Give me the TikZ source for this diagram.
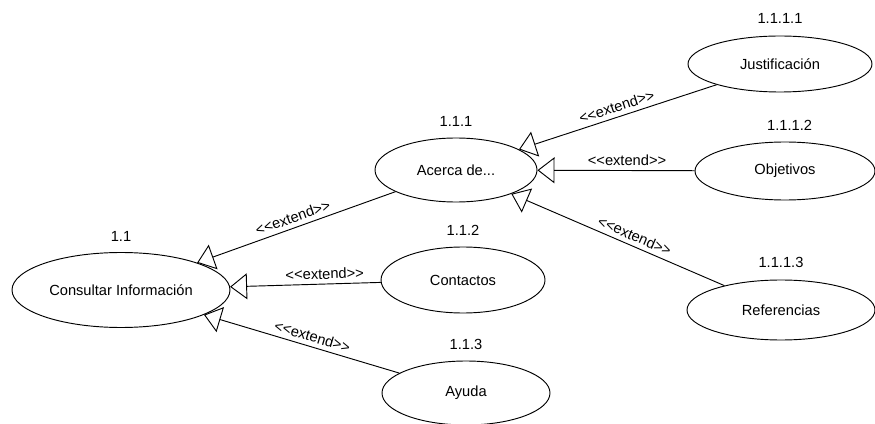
\documentclass[tikz,border=0pt]{standalone}
\usepackage{fontspec}
\setmainfont{Liberation Sans}
\usetikzlibrary{shapes.geometric, arrows.meta, positioning}
\newcommand{\extlabel}{<\kern0pt<extend>\kern0pt>}
\tikzset{
  usecase/.style={ellipse, draw=black, line width=0.7pt, inner sep=0pt, font=\fontsize{11}{13}\selectfont},
  numlabel/.style={inner sep=0pt, font=\fontsize{11}{13}\selectfont},
  extendline/.style={-{Triangle[open, length=12.75pt, width=19.5pt]}, line width=0.7pt},
  stereo/.style={sloped, above, font=\fontsize{11}{13}\selectfont},
}

\begin{document}
\begin{tikzpicture}[x=0.75pt, y=-0.75pt]
\useasboundingbox (0,0) rectangle (875,424);
\node[usecase, minimum width=163.5pt, minimum height=56.25pt] (consultar) at (121,290) {Consultar Información};
\node[usecase, minimum width=121.5pt, minimum height=48pt] (acerca) at (456,170) {Acerca de...};
\node[usecase, minimum width=123pt, minimum height=49.5pt] (contactos) at (463,280) {Contactos};
\node[usecase, minimum width=126pt, minimum height=48pt] (ayuda) at (466,393) {Ayuda};
\node[usecase, minimum width=138pt, minimum height=42pt] (justif) at (780,64) {Justificación};
\node[usecase, minimum width=135pt, minimum height=43.5pt] (objetivos) at (785,171) {Objetivos};
\node[usecase, minimum width=141pt, minimum height=45pt] (referencias) at (781,310) {Referencias};

\node[numlabel, above=8pt of consultar] (n11) {1.1};
\node[numlabel, above=8pt of acerca] (n111) {1.1.1};
\node[numlabel, above=8pt of contactos] (n112) {1.1.2};
\node[numlabel, above=8pt of ayuda] (n113) {1.1.3};
\node[numlabel, above=8.5pt of justif] (n1111) {1.1.1.1};
\node[numlabel, above=8pt of objetivos, xshift=3.5pt] (n1112) {1.1.1.2};
\node[numlabel, above=8.5pt of referencias] (n1113) {1.1.1.3};

\draw[extendline] (acerca) -- node[stereo, pos=0.5] {\extlabel} (consultar);
\draw[extendline] (contactos) -- node[stereo, pos=0.37] {\extlabel} (consultar);
\draw[extendline] (ayuda) -- node[stereo, pos=0.46] {\extlabel} (consultar);
\draw[extendline] (justif) -- node[stereo, pos=0.49] {\extlabel} (acerca);
\draw[extendline] (objetivos) -- node[stereo, pos=0.43] {\extlabel} (acerca);
\draw[extendline] (referencias) -- node[stereo, pos=0.44] {\extlabel} (acerca);
\end{tikzpicture}
\end{document}
